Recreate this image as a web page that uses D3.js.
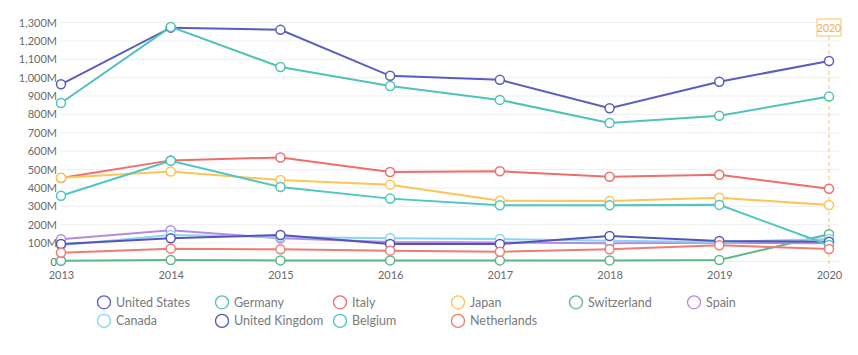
<!DOCTYPE html>
<html><head><meta charset="utf-8">
<script src="https://cdn.jsdelivr.net/npm/d3@7"></script>
<style>body{margin:0;background:#fff;font-family:Lato,"Open Sans",sans-serif;}</style>
</head><body><svg id="c" width="858" height="355"></svg>
<script>
const years = [2013, 2014, 2015, 2016, 2017, 2018, 2019, 2020];
const yTicks = [0,100,200,300,400,500,600,700,800,900,1000,1100,1200,1300];
const seriesNames = ["United States","Germany","Italy","Japan","Switzerland","Spain","Canada","United Kingdom","Belgium","Netherlands"];
const seriesColors = ["#5b5cc0","#4fc3b9","#ef6e6b","#fcc556","#5fb68b","#b38ce2","#8dd3f2","#5455b6","#4ec6c1","#ef7c74"];
const unitedStates = [964, 1272, 1260, 1010, 988, 834, 978, 1091];
const germany      = [862, 1276, 1058, 955, 879, 753, 793, 897];
const italy        = [454, 550, 566, 487, 491, 461, 472, 396];
const japan        = [456, 490, 443, 418, 330, 329, 347, 307];
const switzerland  = [4, 8, 6, 6, 6, 6, 8, 148];
const spain        = [121, 170, 126, 106, 104, 99, 102, 99];
const canada       = [88, 144, 133, 126, 122, 113, 106, 122];
const unitedKingdom= [95, 126, 144, 95, 95, 139, 112, 108];
const belgium      = [358, 548, 405, 342, 306, 306, 308, 90];
const netherlands  = [48, 70, 66, 59, 53, 66, 88, 68];
const seriesValues = [unitedStates, germany, italy, japan, switzerland, spain, canada, unitedKingdom, belgium, netherlands];

const svg = d3.select("#c");
const x = d3.scalePoint().domain(years).range([61, 829]);
const y = d3.scaleLinear().domain([0, 1300]).range([261.5, 22.5]);

// grid
svg.append("g").selectAll("line").data(yTicks).join("line")
  .attr("x1", 60).attr("x2", 839)
  .attr("y1", d => y(d)).attr("y2", d => y(d))
  .attr("stroke", "#efefef").attr("stroke-width", 1);

// y axis labels
const fmt = d => d === 0 ? "0" : d3.format(",")(d) + "M";
const yAxis = d3.axisLeft(y).tickValues(yTicks).tickFormat(fmt).tickSize(0).tickPadding(0);
const gy = svg.append("g").attr("transform", "translate(57,0)").call(yAxis);
gy.select(".domain").remove();
gy.selectAll("text").attr("fill", "#6a6a6a").style("font-size", "11px").style("font-family", "Lato, sans-serif");

// x axis labels
const xAxis = d3.axisBottom(x).tickSize(0).tickPadding(0);
const gx = svg.append("g").attr("transform", "translate(0,271)").call(xAxis);
gx.select(".domain").remove();
gx.selectAll("text").attr("fill", "#6a6a6a").style("font-size", "11px").style("font-family", "Lato, sans-serif");

// 2020 highlight
const hx = x(2020);
svg.append("line").attr("x1", hx).attr("x2", hx).attr("y1", 36).attr("y2", 268)
  .attr("stroke", "#f7c46a").attr("stroke-width", 1).attr("stroke-dasharray", "4,3");
svg.append("rect").attr("x", hx - 12).attr("y", 19).attr("width", 24).attr("height", 17)
  .attr("fill", "#fff").attr("stroke", "#f7c46a").attr("stroke-width", 1);
svg.append("text").attr("x", hx).attr("y", 31.5).attr("text-anchor", "middle")
  .attr("fill", "#f2b14a").style("font-size", "10.5px").text("2020");

// lines
const line = d3.line().x((d, i) => x(years[i])).y(d => y(d));
seriesValues.forEach((vals, k) => {
  svg.append("path").attr("d", line(vals)).attr("fill", "none")
    .attr("stroke", seriesColors[k]).attr("stroke-width", 2);
});
seriesValues.forEach((vals, k) => {
  svg.append("g").selectAll("circle").data(vals).join("circle")
    .attr("cx", (d, i) => x(years[i])).attr("cy", d => y(d)).attr("r", 4.5)
    .attr("fill", "#fff").attr("stroke", seriesColors[k]).attr("stroke-width", 1.5);
});

// legend
const lg = svg.append("g");
seriesNames.forEach((n, k) => {
  const col = k % 6, row = Math.floor(k / 6);
  const cx = 104 + col * 118, cy = 302.3 + row * 18.6;
  lg.append("circle").attr("cx", cx).attr("cy", cy).attr("r", 6.5)
    .attr("fill", "#fff").attr("stroke", seriesColors[k]).attr("stroke-width", 1.3);
  lg.append("text").attr("x", cx + 12).attr("y", cy + 4.5).attr("fill", "#7a7a7a")
    .style("font-size", "12.5px").text(n);
});
</script></body></html>
